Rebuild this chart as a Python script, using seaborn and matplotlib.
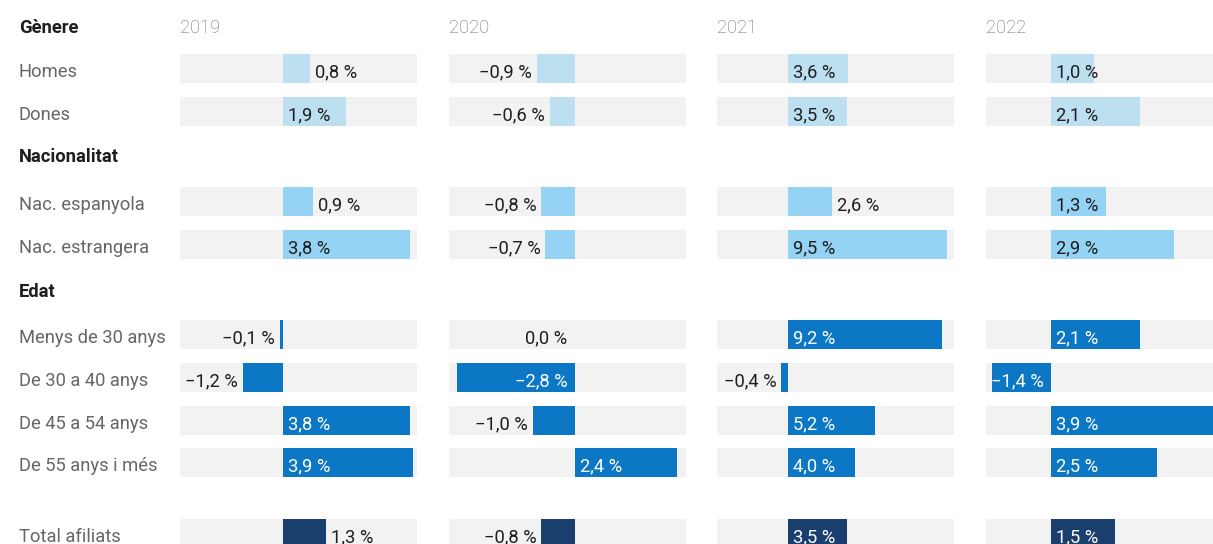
import numpy as np
import pandas as pd
import matplotlib
matplotlib.use("Agg")
import matplotlib.pyplot as plt
import seaborn as sns

# ---------------- data ----------------
categories = ["Homes", "Dones", "Nac. espanyola", "Nac. estrangera",
              "Menys de 30 anys", "De 30 a 40 anys", "De 45 a 54 anys",
              "De 55 anys i més", "Total afiliats"]
groups = ["Gènere", "Gènere", "Nacionalitat", "Nacionalitat",
          "Edat", "Edat", "Edat", "Edat", "Total"]
section_titles = ["Gènere", "Nacionalitat", "Edat"]
years = ["2019", "2020", "2021", "2022"]
v2019 = [0.8, 1.9, 0.9, 3.8, -0.1, -1.2, 3.8, 3.9, 1.3]
v2020 = [-0.9, -0.6, -0.8, -0.7, 0.0, -2.8, -1.0, 2.4, -0.8]
v2021 = [3.6, 3.5, 2.6, 9.5, 9.2, -0.4, 5.2, 4.0, 3.5]
v2022 = [1.0, 2.1, 1.3, 2.9, 2.1, -1.4, 3.9, 2.5, 1.5]
values = {"2019": v2019, "2020": v2020, "2021": v2021, "2022": v2022}

# ---------------- style / layout ----------------
sns.set_theme(style="white")
plt.rcParams["font.family"] = ["Roboto", "DejaVu Sans"]

W, H = 1213, 544
fig = plt.figure(figsize=(W / 100, H / 100), dpi=100)
fig.patch.set_facecolor("white")

row_y = [68.5, 111.5, 201.5, 244.5, 334.5, 377.5, 420.5, 462.5, 533.5]
title_baselines = [33.3, 162.0, 297.3]
bar_h = 29.0
palette = {"Gènere": "#bde0f1", "Nacionalitat": "#95d3f5",
           "Edat": "#0b77c5", "Total": "#1a3e6e"}
dark_groups = {"Edat", "Total"}
panel_left = [180, 449, 717, 986]
panel_w = 237
xlims = {"2019": (-3.1, 4.02), "2020": (-2.98, 2.62),
         "2021": (-4.25, 9.9), "2022": (-1.53, 4.04)}
force_inside = {("2022", "Homes")}
FS = 13.2
txt_dark = "#1e1e1e"


def fmt(v):
    s = f"{abs(v):.1f}".replace(".", ",") + " %"
    return ("\u2212" + s) if v < 0 else s


def fy(ypx):
    return 1 - ypx / H


# section titles & row labels
for t, b in zip(section_titles, title_baselines):
    fig.text(19 / W, fy(b), t, fontsize=FS, fontweight="bold",
             color=txt_dark, va="baseline", ha="left")
for c, y in zip(categories, row_y):
    fig.text(19 / W, fy(y + 8.8), c, fontsize=FS, fontweight="normal",
             color="#666666", va="baseline", ha="left")

min_gap = np.min(np.diff(row_y))

for yr, left in zip(years, panel_left):
    fig.text(left / W, fy(33.3), yr, fontsize=FS, fontweight="light",
             color="#707070", va="baseline", ha="left")
    ax = fig.add_axes([left / W, 0, panel_w / W, 1])
    x0, x1 = xlims[yr]
    ppu = panel_w / (x1 - x0)
    for y in row_y:
        ax.axhspan(y - bar_h / 2, y + bar_h / 2, xmin=0, xmax=1,
                   color="#f2f2f2", lw=0, zorder=0)
    df = pd.DataFrame({"pos": row_y, "value": values[yr], "group": groups})
    sns.barplot(data=df, x="value", y="pos", hue="group", palette=palette,
                orient="h", native_scale=True, width=bar_h / min_gap,
                errorbar=None, legend=False, saturation=1, linewidth=0,
                ax=ax, zorder=2)
    ax.set_xlim(x0, x1)
    ax.set_ylim(H, 0)
    ax.axis("off")

    for cat, y, v, g in zip(categories, row_y, values[yr], groups):
        length = abs(v) * ppu
        inside = (length >= 44) or ((yr, cat) in force_inside)
        label = fmt(v)
        by = y + 8.5
        if inside:
            col = "white" if g in dark_groups else txt_dark
            if v > 0:
                xy, dx, ha = (0, by), 5, "left"
            else:
                xy, dx, ha = (0, by), -7, "right"
        else:
            col = txt_dark
            if v > 0:
                xy, dx, ha = (v, by), 5, "left"
            else:
                xy, dx, ha = (v, by), (-5 if v != 0 else -8), "right"
        ax.annotate(label, xy=xy, xytext=(dx * 0.72, 0), textcoords="offset points",
                    ha=ha, va="baseline", fontsize=FS, color=col, zorder=5,
                    annotation_clip=False)

fig.savefig("out.png", dpi=100, facecolor="white")
